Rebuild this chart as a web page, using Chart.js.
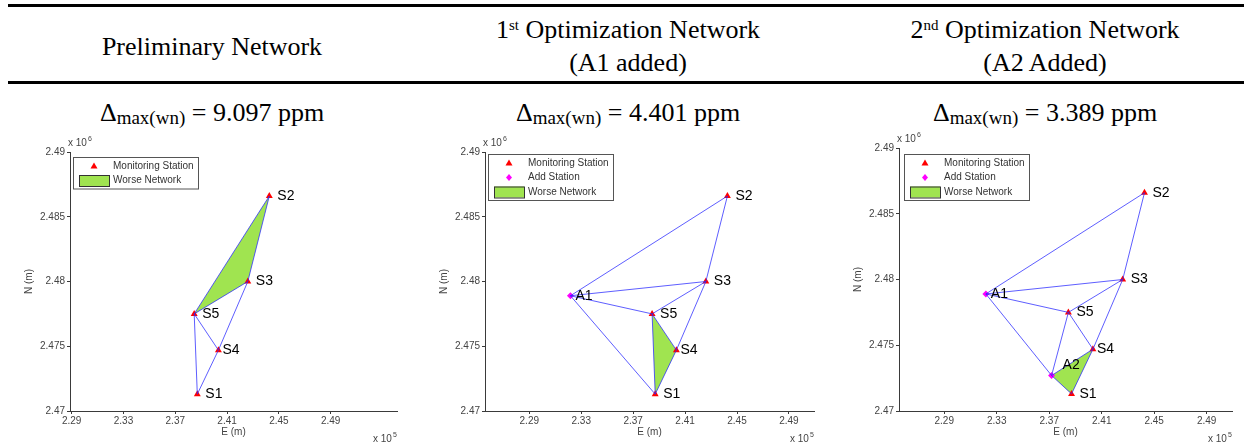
<!DOCTYPE html>
<html>
<head>
<meta charset="utf-8">
<script src="https://cdn.jsdelivr.net/npm/chart.js@4.4.0/dist/chart.umd.min.js"></script>
<style>
body { margin: 0; width: 1244px; height: 445px; background: #fff; position: relative; overflow: hidden;
       font-family: "Liberation Serif", "Times New Roman", serif; color: #000; }
.rule { position: absolute; left: 8px; right: 0; height: 3px; background: #000; }
.head { position: absolute; top: 9px; height: 74px; display: flex; align-items: center; justify-content: center;
        transform: translateX(-50%); white-space: nowrap; }
.head div { text-align: center; font-size: 26px; line-height: 33px; }
.head sup { font-size: 15px; vertical-align: 8px; line-height: 0; }
.ttl { position: absolute; top: 98px; font-size: 26px; line-height: 30px; transform: translateX(-50%); white-space: nowrap; }
.ttl sub { font-size: 19px; vertical-align: -3px; line-height: 0; }
canvas { position: absolute; top: 125px; }
</style>
</head>
<body>
<div class="rule" style="top:4px"></div>
<div class="rule" style="top:81px"></div>

<div class="head" style="left:212px"><div>Preliminary Network</div></div>
<div class="head" style="left:628px"><div>1<sup>st</sup> Optimization Network<br>(A1 added)</div></div>
<div class="head" style="left:1045px"><div>2<sup>nd</sup> Optimization Network<br>(A2 Added)</div></div>

<div class="ttl" id="ttl1" style="left:212px"></div>
<div class="ttl" id="ttl2" style="left:628px"></div>
<div class="ttl" id="ttl3" style="left:1045px"></div>

<canvas id="net1" width="415" height="320" style="left:0px"></canvas>
<canvas id="net2" width="415" height="320" style="left:415px"></canvas>
<canvas id="net3" width="414" height="320" style="left:830px"></canvas>

<script>
// Axis ticks (E in x10^5 m, N in x10^6 m)
const xTicks = [2.29, 2.33, 2.37, 2.41, 2.45, 2.49];
const yTicks = [2.47, 2.475, 2.48, 2.485, 2.49];

// Monitoring stations
const stationNames = ['S1', 'S2', 'S3', 'S4', 'S5'];
const stationE = [2.3870, 2.4426, 2.4260, 2.4033, 2.3846];
const stationN = [2.4713, 2.4866, 2.4800, 2.4747, 2.4775];

// Added stations
const addNames = ['A1', 'A2'];
const addE = [2.3217, 2.3718];
const addN = [2.4789, 2.4727];

// Network edges of each stage
const edges1 = [['S2','S3'], ['S2','S5'], ['S3','S5'], ['S3','S4'], ['S5','S4'], ['S5','S1'], ['S4','S1']];
const edges2 = [['A1','S2'], ['S2','S3'], ['A1','S3'], ['A1','S5'], ['S5','S3'], ['S3','S4'],
                ['A1','S1'], ['S5','S1'], ['S5','S4'], ['S4','S1']];
const edges3 = [['A1','S2'], ['S2','S3'], ['A1','S3'], ['A1','S5'], ['S5','S3'], ['S3','S4'],
                ['A1','A2'], ['A2','S5'], ['S5','S4'], ['A2','S4'], ['A2','S1'], ['S4','S1']];

// Worse network triangles
const worse1 = ['S2', 'S3', 'S5'];
const worse2 = ['S5', 'S4', 'S1'];
const worse3 = ['A2', 'S4', 'S1'];

// Maximum deviation of worse network (ppm)
const deltaMax = [9.097, 4.401, 3.389];

const GREEN = 'rgb(160,228,80)';
const BLUE = 'rgba(40,40,255,0.75)';
const RED = '#ff0000';
const MAGENTA = '#ff00ff';
const AXIS = '#3a3a3a';
const TEXT = '#444';

Chart.defaults.font.family = '"Liberation Sans", Arial, sans-serif';

// label nudges for station names (px)
const labelNudge = { S4: [4, 0], A1: [5, 0], A2: [11, -10] };

function pt(name) {
    let i = stationNames.indexOf(name);
    if (i >= 0) return { x: stationE[i], y: stationN[i] };
    i = addNames.indexOf(name);
    return { x: addE[i], y: addN[i] };
}

// Titles
[1, 2, 3].forEach(k => {
    document.getElementById('ttl' + k).innerHTML =
        '&Delta;<sub>max(wn)</sub> = ' + deltaMax[k - 1].toFixed(3) + ' ppm';
});

// Labels, legend and axis texts drawn on top of the chart
const netExtras = {
    id: 'netExtras',
    afterDatasetsDraw(chart, args, opts) {
        const ctx = chart.ctx;
        const xs = chart.scales.x, ys = chart.scales.y;
        ctx.save();
        ctx.font = '14px "Liberation Sans", Arial, sans-serif';
        ctx.fillStyle = '#000';
        ctx.textAlign = 'left';
        ctx.textBaseline = 'middle';
        opts.names.forEach(n => {
            const p = pt(n);
            const d = labelNudge[n] || [8, 0];
            ctx.fillText(n, xs.getPixelForValue(p.x) + d[0], ys.getPixelForValue(p.y) + d[1]);
        });
        ctx.restore();
    },
    afterDraw(chart, args, opts) {
        const ctx = chart.ctx;
        const a = chart.chartArea;
        ctx.save();

        // axis titles and exponents
        ctx.fillStyle = TEXT;
        ctx.font = '10px "Liberation Sans", Arial, sans-serif';
        ctx.textAlign = 'center';
        ctx.textBaseline = 'middle';
        ctx.fillText('E (m)', (a.left + a.right) / 2, a.bottom + 21);
        ctx.save();
        ctx.translate(a.left - 41, (a.top + a.bottom) / 2);
        ctx.rotate(-Math.PI / 2);
        ctx.fillText('N (m)', 0, 0);
        ctx.restore();

        ctx.textBaseline = 'alphabetic';
        ctx.textAlign = 'left';
        let w = ctx.measureText('x 10').width;
        ctx.fillText('x 10', a.left - 2, a.top - 6);
        ctx.font = '7px "Liberation Sans", Arial, sans-serif';
        ctx.fillText('6', a.left - 2 + w + 1, a.top - 11);
        ctx.font = '10px "Liberation Sans", Arial, sans-serif';
        ctx.fillText('x 10', a.right - 24, a.bottom + 31);
        ctx.font = '7px "Liberation Sans", Arial, sans-serif';
        ctx.fillText('5', a.right - 24 + w + 1, a.bottom + 26);

        // legend box
        const rows = [{ kind: 'tri', text: 'Monitoring Station' }];
        if (opts.adds.length) rows.push({ kind: 'dia', text: 'Add Station' });
        rows.push({ kind: 'patch', text: 'Worse Network' });
        const bx = a.left + opts.legendDx, by = a.top + opts.legendDy;
        const bw = 125, step = 14.5;
        const bh = 9 + (rows.length - 1) * step + 8;
        ctx.fillStyle = '#fff';
        ctx.fillRect(bx, by, bw, bh);
        ctx.strokeStyle = '#555';
        ctx.lineWidth = 1;
        ctx.strokeRect(bx + 0.5, by + 0.5, bw, bh);
        ctx.font = '10px "Liberation Sans", Arial, sans-serif';
        ctx.textBaseline = 'middle';
        rows.forEach((r, i) => {
            const cy = by + 9 + i * step;
            const cx = bx + 21;
            if (r.kind === 'tri') {
                ctx.fillStyle = RED;
                ctx.beginPath();
                ctx.moveTo(cx, cy - 3.5);
                ctx.lineTo(cx + 3.5, cy + 2.5);
                ctx.lineTo(cx - 3.5, cy + 2.5);
                ctx.closePath();
                ctx.fill();
            } else if (r.kind === 'dia') {
                ctx.fillStyle = MAGENTA;
                ctx.beginPath();
                ctx.moveTo(cx, cy - 3.5);
                ctx.lineTo(cx + 3, cy);
                ctx.lineTo(cx, cy + 3.5);
                ctx.lineTo(cx - 3, cy);
                ctx.closePath();
                ctx.fill();
            } else {
                ctx.fillStyle = GREEN;
                ctx.fillRect(bx + 6, cy - 5.5, 30, 11);
                ctx.strokeStyle = '#333';
                ctx.strokeRect(bx + 6.5, cy - 5, 30, 11);
            }
            ctx.fillStyle = '#333';
            ctx.fillText(r.text, bx + 40, cy);
        });
        ctx.restore();
    }
};

function buildNetwork(canvasId, p) {
    const datasets = [];
    // worse network patch
    datasets.push({
        label: 'Worse Network',
        data: p.worse.concat([p.worse[0]]).map(pt),
        showLine: true,
        fill: 'shape',
        backgroundColor: GREEN,
        borderColor: 'rgba(0,0,0,0)',
        borderWidth: 1,
        pointRadius: 0,
        order: 3
    });
    // stations
    datasets.push({
        label: 'Monitoring Station',
        data: stationNames.map(pt),
        pointStyle: 'triangle',
        pointRadius: 4,
        backgroundColor: RED,
        borderColor: RED,
        borderWidth: 0,
        order: 2
    });
    if (p.adds.length) {
        datasets.push({
            label: 'Add Station',
            data: p.adds.map(pt),
            pointStyle: 'rectRot',
            pointRadius: 3.5,
            backgroundColor: MAGENTA,
            borderColor: MAGENTA,
            borderWidth: 0,
            order: 2
        });
    }
    // edges
    p.edges.forEach(e => {
        datasets.push({
            data: e.map(pt),
            showLine: true,
            borderColor: BLUE,
            borderWidth: 1,
            pointRadius: 0,
            fill: false,
            order: 1
        });
    });

    return new Chart(document.getElementById(canvasId), {
        type: 'scatter',
        data: { datasets },
        plugins: [netExtras],
        options: {
            responsive: false,
            animation: false,
            devicePixelRatio: 1,
            events: [],
            layout: { padding: { top: p.padTop, right: p.padRight, bottom: 0, left: 0 } },
            plugins: {
                legend: { display: false },
                tooltip: { enabled: false },
                netExtras: {
                    names: stationNames.concat(p.adds),
                    adds: p.adds,
                    legendDx: p.legendDx,
                    legendDy: p.legendDy
                }
            },
            scales: {
                x: {
                    type: 'linear',
                    min: p.xMin,
                    max: p.xMax,
                    afterBuildTicks: s => { s.ticks = xTicks.map(v => ({ value: v })); },
                    afterFit: s => { s.height = 34; },
                    grid: { display: true, drawOnChartArea: false, drawTicks: true, tickLength: 3, color: AXIS },
                    border: { display: true, color: AXIS, width: 1 },
                    ticks: { padding: 1, color: TEXT, font: { size: 10 }, maxRotation: 0,
                             callback: v => v.toFixed(2) }
                },
                y: {
                    type: 'linear',
                    min: 2.47,
                    max: 2.49,
                    afterBuildTicks: s => { s.ticks = yTicks.map(v => ({ value: v })); },
                    afterFit: s => { s.width = p.yWidth; },
                    grid: { display: true, drawOnChartArea: false, drawTicks: true, tickLength: 3, color: AXIS },
                    border: { display: true, color: AXIS, width: 1 },
                    ticks: { padding: 2, color: TEXT, font: { size: 10 },
                             callback: v => String(Math.round(v * 1000) / 1000) }
                }
            }
        }
    });
}

buildNetwork('net1', { edges: edges1, worse: worse1, adds: [],
    xMin: 2.2887, xMax: 2.5412, padTop: 27, padRight: 18, yWidth: 70, legendDx: 3, legendDy: 5 });
buildNetwork('net2', { edges: edges2, worse: worse2, adds: ['A1'],
    xMin: 2.2559, xMax: 2.5093, padTop: 27, padRight: 16, yWidth: 70, legendDx: 3, legendDy: 2 });
buildNetwork('net3', { edges: edges3, worse: worse3, adds: ['A1', 'A2'],
    xMin: 2.2555, xMax: 2.5093, padTop: 23, padRight: 12, yWidth: 69, legendDx: 5, legendDy: 6 });
</script>
</body>
</html>
